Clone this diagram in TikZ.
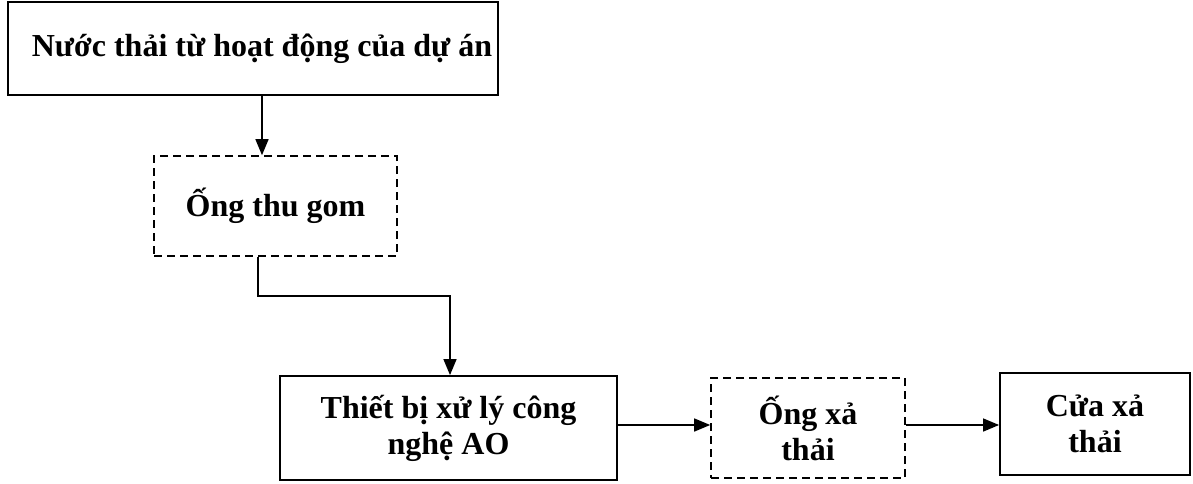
\documentclass[tikz,border=0pt]{standalone}
\usepackage{fontspec}
\setmainfont{Liberation Serif}
\usetikzlibrary{arrows.meta}
\begin{document}
\begin{tikzpicture}[x=1pt,y=-1pt,
  box/.style={draw=black,line width=1.8pt,inner sep=0pt,align=center,
    font=\bfseries\fontsize{32}{36}\selectfont},
  dbox/.style={box,line width=1.6pt,dash pattern=on 8pt off 5pt},
  arr/.style={draw=black,line width=1.4pt,-{Triangle[length=16pt,width=13pt]}}]
\useasboundingbox (0,0) rectangle (1193,484);
\node[box,minimum width=490pt,minimum height=93pt] (b1) at (253,48.5) {\hspace*{18pt}Nước thải từ hoạt động của dự án};
\node[dbox,minimum width=243pt,minimum height=100pt] (b2) at (275.5,206) {Ống thu gom};
\node[box,minimum width=337pt,minimum height=104pt] (b3) at (448.5,428) {Thiết bị xử lý công\\nghệ AO};
\node[dbox,minimum width=194pt,minimum height=100pt] (b4) at (808,428) {Ống xả\\thải};
\node[box,minimum width=190pt,minimum height=102pt] (b5) at (1095,424) {Cửa xả\\thải};
\draw[arr] ([xshift=9pt]b1.south) -- ([xshift=-13.5pt]b2.north);
\draw[arr] ([xshift=-17.5pt]b2.south) -- ++(0,39) -| ([xshift=1.5pt]b3.north);
\draw[arr] ([yshift=3pt]b3.east) -- ([yshift=3pt]b4.west);
\draw[arr] ([yshift=3pt]b4.east) -- ([yshift=-1pt]b5.west);
\end{tikzpicture}
\end{document}
